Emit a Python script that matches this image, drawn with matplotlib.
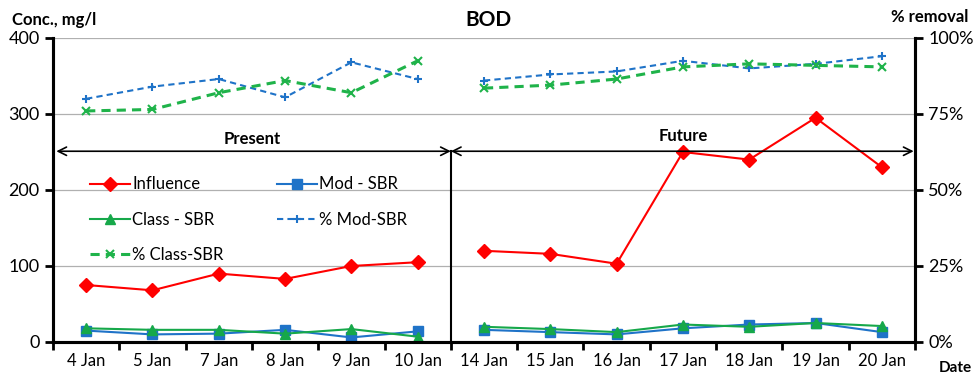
import matplotlib
matplotlib.use("Agg")
import matplotlib.pyplot as plt
import numpy as np

dates = ["4 Jan", "5 Jan", "7 Jan", "8 Jan", "9 Jan", "10 Jan", "14 Jan",
         "15 Jan", "16 Jan", "17 Jan", "18 Jan", "19 Jan", "20 Jan"]
influence = [75, 68, 90, 83, 100, 105, 120, 116, 103, 250, 240, 295, 230]
mod_sbr = [15, 10, 11, 16, 6, 14, 16, 13, 10, 18, 23, 25, 13]
class_sbr = [18, 16, 16, 11, 17, 7, 20, 17, 13, 23, 20, 25, 21]
pct_mod = [80, 84, 86.5, 80.5, 92, 86.5, 86, 88, 89, 92.5, 90, 91.5, 94]
pct_class = [76, 76.5, 82, 86, 82, 92.5, 83.5, 84.5, 86.5, 90.5, 91.5, 91, 90.5]
n_present = 6

plt.rcParams['font.family'] = ['Lato', 'DejaVu Sans']

fig = plt.figure(figsize=(9.8, 3.77), dpi=100)
ax = fig.add_axes([53/980, 1-342/377, (915-53)/980, (342-38)/377])
ax2 = ax.twinx()

x = np.arange(len(dates))
ax.set_xlim(-0.5, len(dates)-0.5)
ax.set_ylim(0, 400)
ax2.set_ylim(0, 100)

ax.yaxis.grid(True, color='#b0b0b0', linewidth=0.9)
ax.set_axisbelow(True)


def seg_plot(a, vals, **kw):
    v = np.array(vals, dtype=float)
    h, = a.plot(x[:n_present], v[:n_present], **kw)
    kw.pop('label', None)
    a.plot(x[n_present:], v[n_present:], **kw)
    return h


l1 = seg_plot(ax, influence, color='#ff0000', marker='D', markersize=7, linewidth=1.5, label='Influence')
l2 = seg_plot(ax, mod_sbr, color='#1f73c8', marker='s', markersize=7, linewidth=1.5, label='Mod - SBR')
l3 = seg_plot(ax, class_sbr, color='#16a84a', marker='^', markersize=7, linewidth=1.5, label='Class - SBR')
l4 = seg_plot(ax2, pct_mod, color='#1f73c8', marker='+', markersize=6, linewidth=1.5,
              linestyle=(0, (3, 2)), markeredgewidth=1.5, label='% Mod-SBR')
l5 = seg_plot(ax2, pct_class, color='#1fb34a', marker='x', markersize=6, linewidth=2.2,
              linestyle=(0, (3, 2)), markeredgewidth=1.5, label='% Class-SBR')

ax.set_xticks(x)
ax.set_xticklabels(dates, fontsize=12)
ax.set_xticks(np.arange(-0.5, len(dates), 1), minor=True)
ax.tick_params(axis='x', which='major', length=0, pad=8)
ax.tick_params(axis='x', which='minor', length=6, width=2, direction='out')
ax.set_yticks([0, 100, 200, 300, 400])
ax.tick_params(axis='y', labelsize=13, length=6, width=2, direction='out')
ax2.set_yticks([0, 25, 50, 75, 100])
ax2.set_yticklabels(['0%', '25%', '50%', '75%', '100%'])
ax2.tick_params(axis='y', labelsize=13, length=6, width=2, direction='out')

for a in (ax, ax2):
    a.spines['top'].set_visible(False)
    a.spines['left'].set_linewidth(2.2)
    a.spines['bottom'].set_linewidth(2.2)
    a.spines['right'].set_linewidth(2.2)

# Period arrows
ya = 251
ax.annotate('', xy=(-0.45, ya), xytext=(5.5, ya),
            arrowprops=dict(arrowstyle='<->', color='black', lw=1.2, mutation_scale=15, shrinkA=0, shrinkB=0))
ax.annotate('', xy=(5.5, ya), xytext=(12.48, ya),
            arrowprops=dict(arrowstyle='<->', color='black', lw=1.2, mutation_scale=15, shrinkA=0, shrinkB=0))
ax.plot([5.5, 5.5], [0, ya], color='black', lw=1.5)
ax.text(2.5, ya+5, 'Present', ha='center', va='bottom', fontsize=12, fontweight='bold')
ax.text(9.0, ya+9, 'Future', ha='center', va='bottom', fontsize=12, fontweight='bold')

leg = ax.legend(handles=[l1, l3, l5, l2, l4], ncol=2, loc='upper left',
                bbox_to_anchor=(0.025, 0.594), frameon=False, fontsize=12,
                handlelength=2.4, handletextpad=0.15, columnspacing=3.2, labelspacing=1.15)
leg.set_zorder(10)

fig.text(12/980, 1-20/377, 'Conc., mg/l', fontsize=12, fontweight='bold', va='center', ha='left')
fig.text(488/980, 1-20/377, 'BOD', fontsize=15, fontweight='bold', va='center', ha='center')
fig.text(968/980, 1-17/377, '% removal', fontsize=12, fontweight='bold', va='center', ha='right')
fig.text(955/980, 1-368/377, 'Date', fontsize=11, fontweight='bold', va='center', ha='center')

fig.savefig('out.png', dpi=100)
